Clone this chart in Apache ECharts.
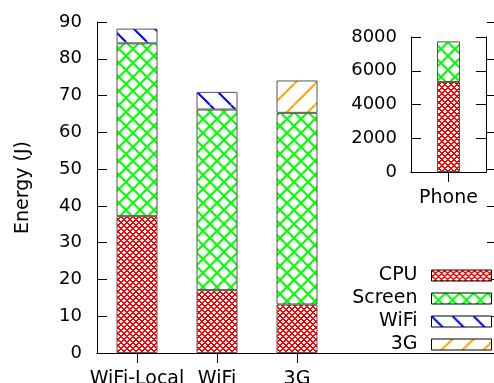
<!DOCTYPE html>
<html>
<head>
<meta charset="utf-8">
<script src="https://cdn.jsdelivr.net/npm/echarts@6/dist/echarts.min.js"></script>
<style>
  html, body { margin: 0; padding: 0; background: #fff; }
  #chart { width: 494px; height: 383px; }
</style>
</head>
<body>
<div id="chart"></div>
<script>
// Energy breakdown per configuration (J)
const categories = ['WiFi-Local', 'WiFi', '3G', '', ''];
const cpu    = [37.2, 17.1, 13.2];
const screen = [47.0, 49.1, 52.1];
const wifi   = [4.0, 4.8, null];
const cell3g = [null, null, 8.8];

// Inset: phone energy (J)
const phoneCategories = ['Phone'];
const phoneCpu    = [5330];
const phoneScreen = [2410];

const yTicks = { min: 0, max: 90, interval: 10 };
const phoneTicks = { min: 0, max: 8000, interval: 2000 };

const FONT = 'DejaVu Sans';

// Hatch fills drawn on small tiles
function hatch(size, color, width, dirs) {
  const c = document.createElement('canvas');
  c.width = size; c.height = size;
  const g = c.getContext('2d');
  g.fillStyle = '#fff';
  g.fillRect(0, 0, size, size);
  g.strokeStyle = color;
  g.lineWidth = width;
  for (const d of dirs) {
    for (const off of [-size, 0, size]) {
      g.beginPath();
      if (d === 'back') { g.moveTo(off, 0); g.lineTo(off + size, size); }
      else { g.moveTo(off, size); g.lineTo(off + size, 0); }
      g.stroke();
    }
  }
  return { image: c, repeat: 'repeat' };
}

// Crisp pixel mesh (no antialiasing) for the fine crosshatch
function mesh(size, rgb, thick) {
  const c = document.createElement('canvas');
  c.width = size; c.height = size;
  const g = c.getContext('2d');
  const img = g.createImageData(size, size);
  for (let y = 0; y < size; y++) {
    for (let x = 0; x < size; x++) {
      const on = ((x - y + size) % size) < thick || ((x + y) % size) < thick;
      const i = (y * size + x) * 4;
      const col = on ? rgb : [255, 255, 255];
      img.data[i] = col[0]; img.data[i + 1] = col[1]; img.data[i + 2] = col[2]; img.data[i + 3] = 255;
    }
  }
  g.putImageData(img, 0, 0);
  return { image: c, repeat: 'repeat' };
}

const fills = {
  CPU: mesh(6, [255, 0, 0], 2),
  Screen: hatch(14, '#00ff00', 2, ['back', 'fwd']),
  WiFi: hatch(21, '#0000ff', 2, ['back']),
  '3G': hatch(21, '#ffa500', 2, ['fwd'])
};

const axisLine = { show: true, lineStyle: { color: '#000', width: 1 } };
const numStyle = { fontFamily: FONT, fontSize: 18, color: '#000' };
const textStyle = { fontFamily: FONT, fontSize: 19, color: '#000' };
const showFirstThree = (i) => i < 3;

function barSeries(name, data, xi, yi, stack, width) {
  return {
    type: 'bar', name, data, stack,
    xAxisIndex: xi, yAxisIndex: yi,
    barWidth: width,
    itemStyle: { color: fills[name], borderColor: '#555', borderWidth: 1 },
    emphasis: { disabled: true },
    animation: false
  };
}

const chart = echarts.init(document.getElementById('chart'), null, { renderer: 'canvas' });
chart.setOption({
  animation: false,
  grid: [
    { left: 97, top: 22, width: 400, height: 331, outerBoundsMode: 'none' },
    { left: 411, top: 37, width: 75, height: 135, outerBoundsMode: 'none' }
  ],
  xAxis: [
    { type: 'category', gridIndex: 0, data: categories, position: 'bottom',
      axisLine, axisTick: { show: true, inside: true, length: 10, alignWithLabel: true, interval: showFirstThree, lineStyle: { color: '#000' } },
      axisLabel: { ...textStyle, margin: 17, interval: 0 }, splitLine: { show: false } },
    { type: 'category', gridIndex: 0, data: categories, position: 'top',
      axisLine, axisTick: { show: true, inside: true, length: 10, alignWithLabel: true, interval: showFirstThree, lineStyle: { color: '#000' } },
      axisLabel: { show: false }, splitLine: { show: false } },
    { type: 'category', gridIndex: 1, data: phoneCategories, position: 'bottom',
      axisLine, axisTick: { show: true, inside: true, length: 10, alignWithLabel: true, lineStyle: { color: '#000' } },
      axisLabel: { ...textStyle, margin: 17 }, splitLine: { show: false } },
    { type: 'category', gridIndex: 1, data: phoneCategories, position: 'top',
      axisLine, axisTick: { show: true, inside: true, length: 10, alignWithLabel: true, lineStyle: { color: '#000' } },
      axisLabel: { show: false }, splitLine: { show: false } }
  ],
  yAxis: [
    { type: 'value', gridIndex: 0, position: 'left', ...yTicks,
      name: 'Energy (J)', nameLocation: 'middle', nameGap: 64, nameRotate: 90,
      nameTextStyle: { ...textStyle },
      axisLine, axisTick: { show: true, inside: true, length: 10, lineStyle: { color: '#000' } },
      axisLabel: { ...numStyle, margin: 15 }, splitLine: { show: false } },
    { type: 'value', gridIndex: 0, position: 'right', ...yTicks,
      axisLine, axisTick: { show: true, inside: true, length: 10, lineStyle: { color: '#000' } },
      axisLabel: { show: false }, splitLine: { show: false } },
    { type: 'value', gridIndex: 1, position: 'left', ...phoneTicks,
      axisLine, axisTick: { show: true, inside: true, length: 10, lineStyle: { color: '#000' } },
      axisLabel: { ...numStyle, margin: 14, formatter: (v) => String(v) }, splitLine: { show: false } },
    { type: 'value', gridIndex: 1, position: 'right', ...phoneTicks,
      axisLine, axisTick: { show: true, inside: true, length: 10, lineStyle: { color: '#000' } },
      axisLabel: { show: false }, splitLine: { show: false } }
  ],
  legend: {
    data: ['CPU', 'Screen', 'WiFi', '3G'],
    orient: 'vertical', align: 'right',
    right: 2, top: 266, padding: 0,
    itemWidth: 60, itemHeight: 11, itemGap: 4,
    icon: 'rect',
    selectedMode: false,
    itemStyle: { borderColor: '#000', borderWidth: 1 },
    textStyle: { ...textStyle, padding: [0, 9, 0, 0], lineHeight: 19 }
  },
  series: [
    barSeries('CPU', cpu, 0, 0, 'main', 41),
    barSeries('Screen', screen, 0, 0, 'main', 41),
    barSeries('WiFi', wifi, 0, 0, 'main', 41),
    barSeries('3G', cell3g, 0, 0, 'main', 41),
    barSeries('CPU', phoneCpu, 2, 2, 'phone', 23),
    barSeries('Screen', phoneScreen, 2, 2, 'phone', 23)
  ]
});
</script>
</body>
</html>
